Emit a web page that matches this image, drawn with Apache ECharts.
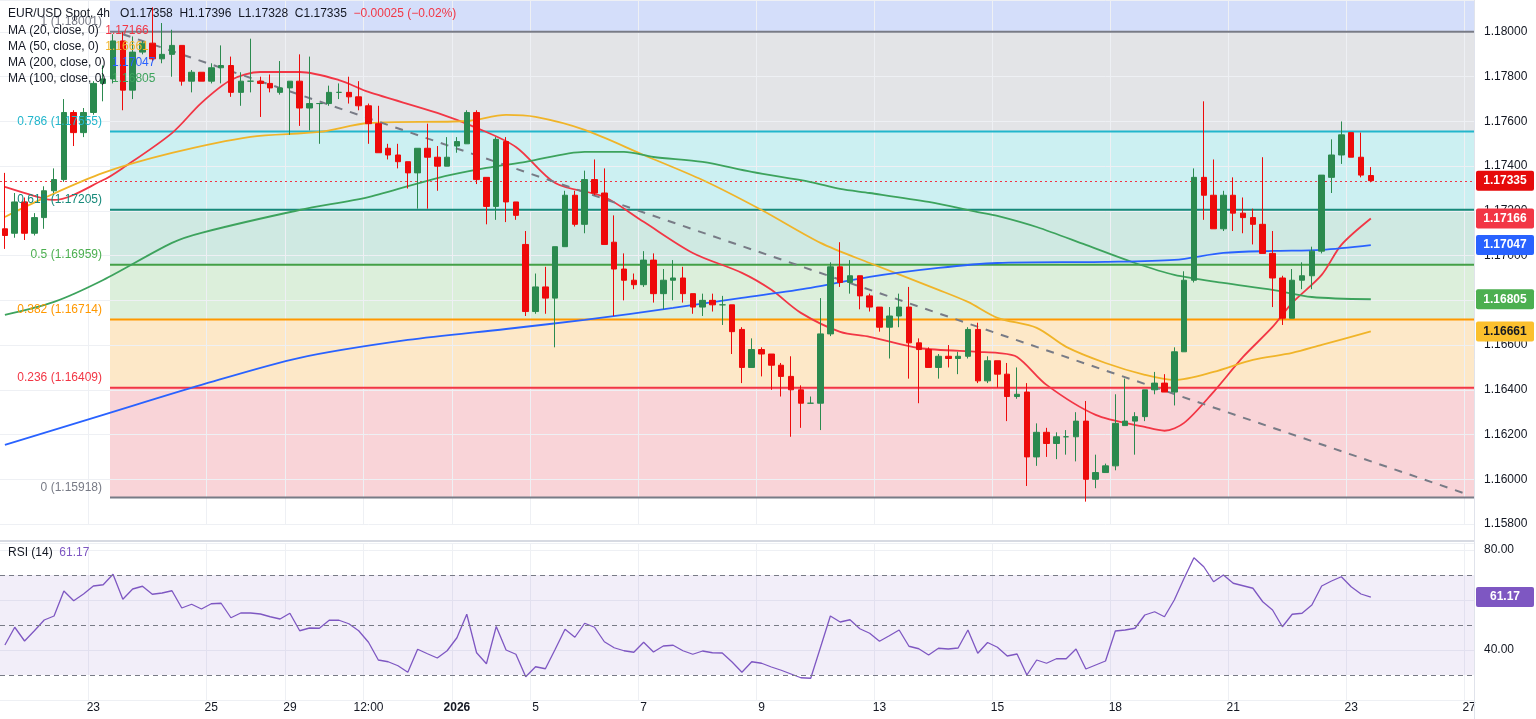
<!DOCTYPE html>
<html><head><meta charset="utf-8">
<script src="https://cdn.jsdelivr.net/npm/echarts@6.0.0/dist/echarts.min.js"></script>
<style>html,body{margin:0;padding:0;background:#fff}#c{width:1536px;height:719px}</style>
</head><body><div id="c"></div>
<script>
// ---- DATA ----
// candles: [open, close, low, high]
const candles = [
[1.1712,1.1709,1.1703,1.1737],[1.1710,1.1724,1.1708,1.1728],[1.1724,1.1710,1.1707,1.1726],[1.1710,1.1717,1.1709,1.1719],
[1.1717,1.1729,1.1712,1.1731],[1.1729,1.1734,1.1728,1.1739],[1.1734,1.1764,1.1733,1.1770],[1.1764,1.1755,1.1749,1.1765],
[1.1755,1.1764,1.1753,1.1766],[1.1764,1.1777,1.1763,1.1778],[1.1777,1.1779,1.1769,1.1785],[1.1779,1.1796,1.1777,1.1799],
[1.1796,1.1774,1.1765,1.1800],[1.1774,1.1791,1.1770,1.1798],[1.1791,1.1795,1.1790,1.1796],[1.1795,1.1788,1.1787,1.1811],
[1.1788,1.1790,1.1786,1.1804],[1.1790,1.1794,1.1780,1.1801],[1.1794,1.1778,1.1776,1.1794],[1.1778,1.1782,1.1773,1.1783],
[1.1782,1.1778,1.1778,1.1782],[1.1778,1.1784,1.1777,1.1786],[1.1784,1.1785,1.1777,1.1794],[1.1785,1.1773,1.1771,1.1789],
[1.1773,1.1778,1.1767,1.1782],[1.1778,1.1778,1.1773,1.1797],[1.1778,1.1777,1.1762,1.1780],[1.1777,1.1775,1.1773,1.1781],
[1.1773,1.1775,1.1772,1.1787],[1.1775,1.1778,1.1754,1.1778],[1.1778,1.1766,1.1758,1.1790],[1.1766,1.1768,1.1756,1.1789],
[1.1768,1.1768,1.1750,1.1768],[1.1768,1.1773,1.1767,1.1776],[1.1773,1.1773,1.1770,1.1777],[1.1773,1.1771,1.1768,1.1780],
[1.1771,1.1767,1.1765,1.1778],[1.1767,1.1759,1.1750,1.1768],[1.1759,1.1746,1.1746,1.1767],[1.1748,1.1745,1.1743,1.1750],
[1.1745,1.1742,1.1739,1.1750],[1.1742,1.1737,1.1730,1.1742],[1.1737,1.1748,1.1721,1.1748],[1.1748,1.1744,1.1721,1.1759],
[1.1744,1.1740,1.1729,1.1749],[1.1740,1.1744,1.1740,1.1753],[1.1749,1.1751,1.1746,1.1753],[1.1750,1.1764,1.1750,1.1765],
[1.1764,1.1734,1.1732,1.1765],[1.1735,1.1722,1.1714,1.1735],[1.1722,1.1752,1.1716,1.1753],[1.1751,1.1724,1.1715,1.1753],
[1.1724,1.1718,1.1716,1.1724],[1.1705,1.1675,1.1673,1.1711],[1.1675,1.1686,1.1674,1.1692],[1.1686,1.1681,1.1674,1.1695],
[1.1681,1.1704,1.1659,1.1704],[1.1704,1.1727,1.1704,1.1729],[1.1727,1.1714,1.1713,1.1729],[1.1714,1.1734,1.1710,1.1738],
[1.1734,1.1728,1.1727,1.1743],[1.1728,1.1705,1.1705,1.1739],[1.1706,1.1694,1.1673,1.1718],[1.1694,1.1689,1.1680,1.1701],
[1.1689,1.1687,1.1685,1.1692],[1.1687,1.1698,1.1686,1.1702],[1.1698,1.1683,1.1679,1.1701],[1.1683,1.1689,1.1676,1.1694],
[1.1689,1.1690,1.1680,1.1698],[1.1690,1.1683,1.1679,1.1695],[1.1683,1.1677,1.1674,1.1683],[1.1677,1.1680,1.1673,1.1683],
[1.1680,1.1678,1.1675,1.1683],[1.1678,1.1678,1.1669,1.1682],[1.1678,1.1666,1.1656,1.1678],[1.1667,1.1650,1.1643,1.1668],
[1.1650,1.1658,1.1650,1.1663],[1.1658,1.1656,1.1646,1.1659],[1.1656,1.1651,1.1640,1.1656],[1.1651,1.1646,1.1637,1.1652],
[1.1646,1.1640,1.1619,1.1655],[1.1640,1.1634,1.1623,1.1642],[1.1634,1.1634,1.1634,1.1637],[1.1634,1.1665,1.1622,1.1681],
[1.1665,1.1695,1.1664,1.1697],[1.1695,1.1688,1.1686,1.1706],[1.1688,1.1691,1.1683,1.1698],[1.1691,1.1682,1.1676,1.1691],
[1.1682,1.1677,1.1675,1.1683],[1.1677,1.1668,1.1666,1.1677],[1.1668,1.1673,1.1654,1.1677],[1.1673,1.1677,1.1668,1.1683],
[1.1677,1.1661,1.1645,1.1686],[1.1661,1.1658,1.1634,1.1663],[1.1658,1.1650,1.1650,1.1659],[1.1650,1.1655,1.1645,1.1656],
[1.1655,1.1654,1.1650,1.1660],[1.1654,1.1655,1.1647,1.1657],[1.1655,1.1667,1.1654,1.1668],[1.1667,1.1644,1.1643,1.1670],
[1.1644,1.1653,1.1643,1.1655],[1.1653,1.1647,1.1641,1.1653],[1.1647,1.1637,1.1626,1.1652],[1.1637,1.1638,1.1636,1.1650],
[1.1639,1.1610,1.1597,1.1643],[1.1610,1.1621,1.1606,1.1625],[1.1621,1.1616,1.1610,1.1623],[1.1616,1.1619,1.1609,1.1621],
[1.1619,1.1619,1.1611,1.1622],[1.1619,1.1626,1.1608,1.1630],[1.1626,1.1600,1.1590,1.1635],[1.1600,1.1603,1.1596,1.1611],
[1.1603,1.1606,1.1603,1.1607],[1.1606,1.1625,1.1604,1.1638],[1.1624,1.1626,1.1624,1.1645],[1.1626,1.1628,1.1611,1.1630],
[1.1628,1.1640,1.1626,1.1640],[1.1640,1.1643,1.1638,1.1648],[1.1643,1.1639,1.1639,1.1647],[1.1639,1.1657,1.1633,1.1659],
[1.1657,1.1689,1.1657,1.1693],[1.1689,1.1735,1.1688,1.1739],[1.1735,1.1727,1.1716,1.1769],[1.1727,1.1712,1.1712,1.1743],
[1.1712,1.1727,1.1711,1.1729],[1.1727,1.1719,1.1711,1.1735],[1.1719,1.1717,1.1710,1.1726],[1.1717,1.1714,1.1705,1.1721],
[1.1714,1.1701,1.1701,1.1744],[1.1701,1.1690,1.1677,1.1711],[1.1690,1.1672,1.1669,1.1691],[1.1672,1.1689,1.1672,1.1694],
[1.1689,1.1691,1.1685,1.1697],[1.1691,1.1702,1.1685,1.1704],[1.1702,1.1736,1.1701,1.1736],[1.1735,1.1745,1.1728,1.1752],
[1.1745,1.1754,1.1741,1.1760],[1.1755,1.1744,1.1744,1.1755],[1.1744,1.1736,1.1735,1.1755],[1.17358,1.17335,1.17328,1.17396]
];
const rsi = [42.0,49.1,43.6,47.7,52.0,53.6,63.6,59.7,62.4,65.6,66.1,70.3,60.3,64.4,65.5,62.3,62.8,63.7,56.8,58.3,
56.4,58.5,58.7,52.9,54.8,54.8,54.4,53.3,52.4,54.7,47.7,48.8,48.7,51.9,51.9,50.5,47.7,43.1,36.0,35.3,
33.7,31.1,40.3,38.5,36.8,39.7,44.9,54.3,38.9,34.5,49.4,40.0,38.3,29.3,33.3,32.5,40.3,48.3,45.1,50.7,
49.1,43.3,40.9,39.7,39.1,43.1,39.2,41.6,41.9,39.7,38.3,39.6,38.9,38.8,35.2,31.1,35.3,34.7,33.2,31.9,
30.4,28.9,28.7,41.1,53.6,51.2,52.1,48.5,46.7,43.5,45.7,48.0,41.5,40.5,38.0,40.7,40.4,40.8,48.0,38.7,
43.0,41.1,37.6,38.4,30.0,36.0,34.7,36.5,36.5,40.4,32.4,34.0,35.6,47.6,48.0,48.7,54.0,55.3,53.3,60.0,
68.7,76.9,73.3,67.3,70.0,66.7,65.7,64.7,59.3,56.0,49.3,54.3,54.7,58.0,65.6,67.6,69.3,65.3,62.4,61.17];
// moving averages read as [candle index, value]
const ma20 = [[0,1.17307],[3.6,1.17254],[4.6,1.17249],[9.7,1.17338],[11.8,1.17392],[16.6,1.17548],[20,1.17683],[23.1,1.17785],
[26.1,1.17821],[29.5,1.17821],[33.6,1.17785],[37.1,1.17732],[43.9,1.17638],[48,1.17571],[51.8,1.17486],[55.8,1.17325],
[61,1.17262],[65.1,1.17151],[69.9,1.17012],[75.3,1.16923],[78.1,1.16847],[80.8,1.16744],[84.9,1.16659],[88.3,1.16637],
[92.7,1.16587],[98.6,1.16570],[101.2,1.16565],[102.6,1.16547],[106.4,1.16422],[110.6,1.16288],[115.8,1.16234],
[117.8,1.16217],[119.7,1.16252],[122.8,1.16391],[125.6,1.16547],[128.7,1.16681],[131.2,1.16789],[133.9,1.16914],
[136,1.17048],[139,1.17166]];
const ma50 = [[0,1.17173],[3.6,1.17258],[9.7,1.17370],[16.6,1.17459],[24.8,1.17531],[32.3,1.17553],[37.1,1.17593],
[46.6,1.17602],[50.7,1.17629],[54.1,1.17620],[59.2,1.17562],[65.4,1.17450],[71.2,1.17338],[77.4,1.17204],[83.2,1.17057],
[88.3,1.16967],[95.1,1.16847],[97.9,1.16793],[101.2,1.16722],[104.6,1.16677],[108,1.16592],[111.5,1.16520],[115.6,1.16467],
[119.1,1.16444],[122.6,1.16480],[127.1,1.16534],[130.6,1.16565],[134,1.16601],[139,1.16661]];
const ma100 = [[0,1.16735],[4.6,1.16793],[9.7,1.16891],[16.6,1.17057],[20,1.17102],[30.2,1.17204],[37.1,1.17262],
[43.9,1.17347],[49,1.17392],[52.8,1.17419],[59.2,1.17464],[62.7,1.17464],[66.1,1.17441],[71.2,1.17419],[76.3,1.17374],
[81.5,1.17329],[84.8,1.17298],[88.3,1.17280],[93.5,1.17240],[98.6,1.17195],[101.2,1.17178],[105.4,1.17128],[110,1.17048],
[115.2,1.16967],[118.6,1.16914],[123.8,1.16878],[129,1.16847],[133.2,1.16815],[139,1.16805]];
const ma200 = [[0,1.16154],[9.7,1.16288],[20,1.16422],[30.2,1.16543],[40.5,1.16623],[50.7,1.16672],[59.2,1.16713],
[67.8,1.16766],[74.6,1.16811],[81.5,1.16856],[88.3,1.16905],[95.1,1.16945],[101.2,1.16967],[111.5,1.16972],[118.6,1.16981],
[123.8,1.17012],[129,1.17021],[134,1.17026],[139,1.17047]];
const trend = [[12,1.1799],[149,1.1593]];
const fibLevels = [1,0.786,0.618,0.5,0.382,0.236,0];
const fibPrices = [1.18001,1.17555,1.17205,1.16959,1.16714,1.16409,1.15918];
const labelIdx = [9,21,29,37,46,54,65,77,89,101,113,125,137,149];
const labelText = ['23','25','29','12:00','2026','5','7','9','13','15','18','21','23','27'];
const slotCount = 150;
const lastPrice = 1.17335;

// ---- CHART ----
const categories = [];
for (let i = 0; i < slotCount; i++) categories.push(String(i));
const labelMap = {}; labelIdx.forEach((v, k) => labelMap[v] = labelText[k]);
const UP = '#2b8a4f', DOWN = '#ee0a0a';
const FONT = 'Liberation Sans, Arial, sans-serif';
const chart = echarts.init(document.getElementById('c'));
const grid = '#eef0f4';
const maLine = (name, data, color) => ({name, type:'line', data, symbol:'none', smooth:0.3,
  lineStyle:{color, width:1.8}, z:3, xAxisIndex:0, yAxisIndex:0});
chart.setOption({
  animation:false, backgroundColor:'#fff', textStyle:{fontFamily:FONT},
  grid:[{left:0, right:62, top:0, height:524}, {left:0, right:62, top:543, height:157}],
  xAxis:[
    {gridIndex:0, type:'category', data:categories, boundaryGap:true, axisLine:{show:false}, axisTick:{show:false},
     axisLabel:{show:false}, splitLine:{show:true, interval:(i)=>labelMap[i]!==undefined, lineStyle:{color:grid}}},
    {gridIndex:1, type:'category', data:categories, boundaryGap:true, axisLine:{show:false}, axisTick:{show:false},
     axisLabel:{show:true, interval:(i)=>labelMap[i]!==undefined,
       formatter:(v,i)=>labelMap[i]==='2026' ? '{b|2026}' : (labelMap[i]||''),
       rich:{b:{fontWeight:'bold', color:'#131722', fontSize:12}},
       color:'#131722', fontSize:12, margin:2}, splitLine:{show:true, interval:(i)=>labelMap[i]!==undefined, lineStyle:{color:grid}}}
  ],
  yAxis:[
    {gridIndex:0, type:'value', position:'right', min:1.158, max:1.18143, interval:0.002, scale:true,
     axisLine:{show:false}, axisTick:{show:false}, splitLine:{lineStyle:{color:grid}},
     axisLabel:{formatter:(v)=>v.toFixed(5), color:'#131722', fontSize:12, margin:10, showMaxLabel:false}},
    {gridIndex:1, type:'value', position:'right', min:20, max:82.8, interval:20,
     axisLine:{show:false}, axisTick:{show:false}, splitLine:{lineStyle:{color:grid}},
     axisLabel:{formatter:(v)=>v===20?'':v.toFixed(2), color:'#131722', fontSize:12, margin:10, showMaxLabel:false}}
  ],
  series:[
    {type:'candlestick', data:candles, xAxisIndex:0, yAxisIndex:0, barWidth:6, z:5,
     itemStyle:{color:UP, color0:DOWN, borderColor:UP, borderColor0:DOWN, borderWidth:1}},
    maLine('MA20', ma20, '#f23645'),
    maLine('MA50', ma50, '#f0b429'),
    maLine('MA100', ma100, '#3da35d'),
    maLine('MA200', ma200, '#2962ff'),
    {type:'line', data:trend, symbol:'none', lineStyle:{color:'#787b86', width:2, type:[8,8]}, z:3},
    {type:'line', data:rsi, xAxisIndex:1, yAxisIndex:1, symbol:'none', lineStyle:{color:'#7e57c2', width:1.3},
     markArea:{silent:true, itemStyle:{color:'rgba(126,87,194,0.1)'}, data:[[{yAxis:30},{yAxis:70}]]},
     markLine:{symbol:'none', silent:true, label:{show:false}, lineStyle:{color:'#787b86', type:[5,4], width:1},
       data:[{yAxis:30},{yAxis:50},{yAxis:70}]}}
  ]
});

function draw() {
  const g = [];
  const py = (v) => chart.convertToPixel({yAxisIndex:0}, v);
  const ry = (v) => chart.convertToPixel({yAxisIndex:1}, v);
  const X0 = 110, X1 = 1474;
  const bandColors = ['#d4defa','#e3e4e7','#ccf0f2','#cfe9e2','#dcefdb','#fde8c8','#f9d4d8'];
  const lineColors = ['#787b86','#22b6cc','#16897a','#43a047','#ff9800','#f23645','#787b86'];
  const textColors = ['#787b86','#22b6cc','#16897a','#4caf50','#ff9800','#f23645','#787b86'];
  g.push({type:'rect', z:-10, shape:{x:X0, y:0, width:X1-X0, height:py(fibPrices[0])}, style:{fill:bandColors[0]}, silent:true});
  for (let k = 0; k < fibPrices.length - 1; k++) {
    const a = py(fibPrices[k]), b = py(fibPrices[k+1]);
    g.push({type:'rect', z:-10, shape:{x:X0, y:a, width:X1-X0, height:b-a}, style:{fill:bandColors[k+1]}, silent:true});
  }
  fibPrices.forEach((p, k) => {
    const y = py(p);
    g.push({type:'line', z:1, shape:{x1:X0, y1:y, x2:X1, y2:y}, style:{stroke:lineColors[k], lineWidth:2}, silent:true});
    g.push({type:'text', z:20, x:102, y:y-10, style:{text:fibLevels[k] + ' (' + p.toFixed(5) + ')', fill:textColors[k],
      font:'12px ' + FONT, textAlign:'right', textVerticalAlign:'middle'}});
  });
  const ly = Math.round(py(lastPrice)) + 0.5;
  g.push({type:'line', z:2, shape:{x1:0, y1:ly, x2:X1, y2:ly}, style:{stroke:'#f23645', lineWidth:1, lineDash:[2,3]}, silent:true});
  g.push({type:'line', z:30, shape:{x1:0, y1:541, x2:1474, y2:541}, style:{stroke:'#d7dae2', lineWidth:2}});
  g.push({type:'line', z:30, shape:{x1:1474.5, y1:0, x2:1474.5, y2:719}, style:{stroke:'#e0e3eb', lineWidth:1}});
  g.push({type:'text', z:40, x:8, y:14, style:{font:'12px ' + FONT, textVerticalAlign:'middle',
    rich:{a:{fill:'#131722', font:'12px ' + FONT}, r:{fill:'#f23645', font:'12px ' + FONT}},
    text:'{a|EUR/USD Spot, 4h   O1.17358  H1.17396  L1.17328  C1.17335}  {r|−0.00025 (−0.02%)}'}});
  const maLeg = [['MA (20, close, 0)','1.17166','#f23645'],['MA (50, close, 0)','1.16661','#f0b429'],
                 ['MA (200, close, 0)','1.17047','#2962ff'],['MA (100, close, 0)','1.16805','#3da35d']];
  maLeg.forEach((m, k) => {
    g.push({type:'text', z:40, x:8, y:31 + k*16, style:{font:'12px ' + FONT, textVerticalAlign:'middle',
      rich:{a:{fill:'#131722', font:'12px ' + FONT}, v:{fill:m[2], font:'12px ' + FONT}},
      text:'{a|' + m[0] + '}  {v|' + m[1] + '}'}});
  });
  g.push({type:'text', z:40, x:8, y:553, style:{font:'12px ' + FONT, textVerticalAlign:'middle',
    rich:{a:{fill:'#131722', font:'12px ' + FONT}, v:{fill:'#7e57c2', font:'12px ' + FONT}},
    text:'{a|RSI (14)}  {v|61.17}'}});
  const tags = [[py(lastPrice), '1.17335', '#e60b0b', '#fff'], [py(1.17166), '1.17166', '#f23645', '#fff'],
                [py(1.17047), '1.17047', '#2962ff', '#fff'], [py(1.16805), '1.16805', '#4caf50', '#fff'],
                [py(1.16661), '1.16661', '#fbc02d', '#131722'], [ry(61.17), '61.17', '#7e57c2', '#fff']];
  tags.forEach(t => {
    g.push({type:'rect', z:50, shape:{x:1476, y:t[0]-10, width:58, height:20, r:2}, style:{fill:t[2]}});
    g.push({type:'text', z:51, x:1505, y:t[0], style:{text:t[1], fill:t[3], font:'bold 12px ' + FONT,
      textAlign:'center', textVerticalAlign:'middle'}});
  });
  chart.setOption({graphic:g});
}
draw();
</script></body></html>
